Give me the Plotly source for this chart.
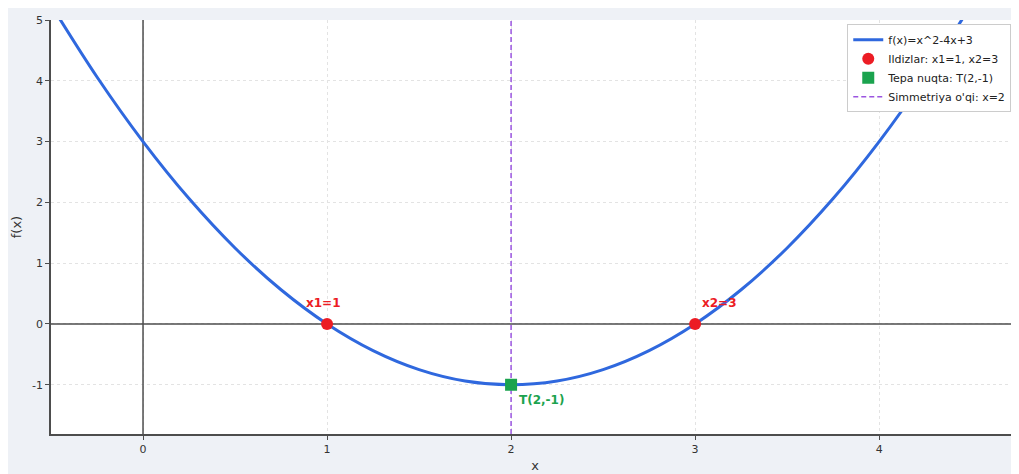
import plotly.graph_objects as go

# Curve samples
curve_x = [-0.5, -0.25, 0.0, 0.25, 0.5, 0.75, 1.0, 1.25, 1.5, 1.75, 2.0,
           2.25, 2.5, 2.75, 3.0, 3.25, 3.5, 3.75, 4.0, 4.25, 4.5]
curve_y = [5.25, 4.0625, 3.0, 2.0625, 1.25, 0.5625, 0.0, -0.4375, -0.75, -0.9375, -1.0,
           -0.9375, -0.75, -0.4375, 0.0, 0.5625, 1.25, 2.0625, 3.0, 4.0625, 5.25]

roots_x = [1, 3]
roots_y = [0, 0]
vertex_x = [2]
vertex_y = [-1]

x_range = [-0.5, 4.76]
y_range = [-1.81, 5.0]

root_labels = ["x1=1", "x2=3"]
root_label_x = [0.98, 3.13]
root_label_y = [0.34, 0.34]
vertex_label = "T(2,-1)"

x_ticks = [0, 1, 2, 3, 4]
y_ticks = [-1, 0, 1, 2, 3, 4, 5]

BLUE = "#2f68de"
RED = "#ec1c24"
GREEN = "#1ba34e"
PURPLE = "#9b55e0"
AXIS = "#4d4d4d"
FONT = "DejaVu Sans"

fig = go.Figure()
# y=0 and x=0 reference lines (below data, above grid)
fig.add_trace(go.Scatter(x=x_range, y=[0, 0], mode="lines", line=dict(color=AXIS, width=1.5),
                         showlegend=False, hoverinfo="skip"))
fig.add_trace(go.Scatter(x=[0, 0], y=y_range, mode="lines", line=dict(color=AXIS, width=1.5),
                         showlegend=False, hoverinfo="skip"))

fig.add_trace(go.Scatter(x=[vertex_x[0], vertex_x[0]], y=y_range, mode="lines",
                         line=dict(color=PURPLE, width=1.5, dash="5px,3px"),
                         name="Simmetriya o'qi: x=2", legendrank=4))
fig.add_trace(go.Scatter(x=curve_x, y=curve_y, mode="lines", line=dict(color=BLUE, width=3, shape="spline"),
                         name="f(x)=x^2-4x+3", legendrank=1))
fig.add_trace(go.Scatter(x=roots_x, y=roots_y, mode="markers",
                         marker=dict(color=RED, size=12, symbol="circle"),
                         name="Ildizlar: x1=1, x2=3", legendrank=2))
fig.add_trace(go.Scatter(x=vertex_x, y=vertex_y, mode="markers",
                         marker=dict(color=GREEN, size=12, symbol="square"),
                         name="Tepa nuqta: T(2,-1)", legendrank=3))

for t, lx, ly in zip(root_labels, root_label_x, root_label_y):
    fig.add_annotation(x=lx, y=ly, text="<b>" + t + "</b>", showarrow=False,
                       font=dict(color=RED, size=12, family=FONT))
fig.add_annotation(x=vertex_x[0], y=vertex_y[0], text="<b>" + vertex_label + "</b>", showarrow=False,
                   xanchor="left", yanchor="top", xshift=6, yshift=-6,
                   font=dict(color=GREEN, size=12, family=FONT))

fig.update_layout(
    width=1011, height=466,
    margin=dict(l=43, r=0, t=12, b=40),
    paper_bgcolor="#eef1f6",
    plot_bgcolor="white",
    font=dict(family=FONT, size=11, color="#333333"),
    showlegend=True,
    legend=dict(x=0.992, y=0.99, xanchor="right", yanchor="top",
                bgcolor="white", bordercolor="#cccccc", borderwidth=1,
                font=dict(size=11, family=FONT, color="#222222"),
                itemwidth=30, tracegroupgap=0),
    xaxis=dict(range=x_range, tickvals=x_ticks, ticktext=[str(v) for v in x_ticks],
               showgrid=True, gridcolor="#e3e3e3", griddash="dot", gridwidth=1,
               zeroline=False, showline=True, linecolor=AXIS, linewidth=1.5,
               ticks="outside", ticklen=4, tickcolor=AXIS,
               title=dict(text="x", font=dict(size=13, family=FONT), standoff=6)),
    yaxis=dict(range=y_range, tickvals=y_ticks, ticktext=[str(v) for v in y_ticks],
               showgrid=True, gridcolor="#e3e3e3", griddash="dot", gridwidth=1,
               zeroline=False, showline=True, linecolor=AXIS, linewidth=1.5,
               ticks="outside", ticklen=4, tickcolor=AXIS,
               title=dict(text="f(x)", font=dict(size=13, family=FONT), standoff=8)),
)

fig.write_html("out.html")
